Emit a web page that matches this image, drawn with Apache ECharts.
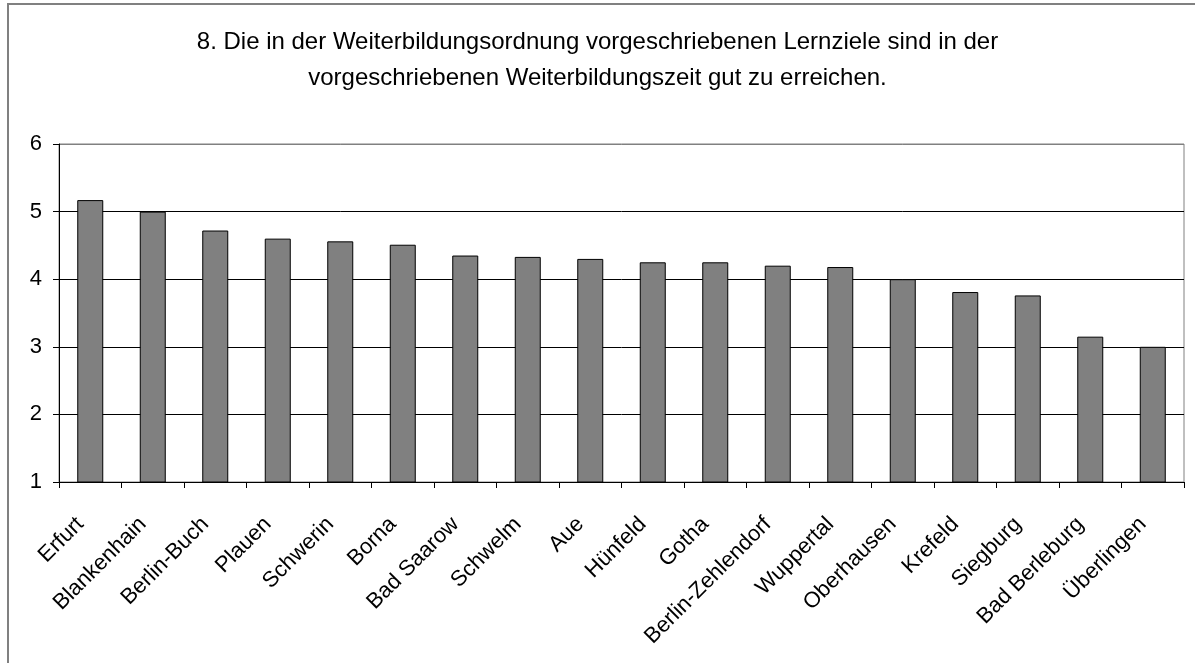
<!DOCTYPE html>
<html>
<head>
    <meta charset="utf-8">
    <title>Weiterbildung - Lernziele</title>
    <script src="https://cdn.jsdelivr.net/npm/echarts@6/dist/echarts.min.js"></script>
    <style type="text/css">
        html, body {
            margin: 0;
            padding: 0;
            background: #ffffff;
        }
        #chart {
            width: 1195px;
            height: 663px;
        }
    </style>
</head>
<body>
<div id="chart"></div>
<script>
    // Daten
    var kliniken = ['Erfurt', 'Blankenhain', 'Berlin-Buch', 'Plauen', 'Schwerin', 'Borna', 'Bad Saarow', 'Schwelm', 'Aue',
        'Hünfeld', 'Gotha', 'Berlin-Zehlendorf', 'Wuppertal', 'Oberhausen', 'Krefeld', 'Siegburg', 'Bad Berleburg', 'Überlingen'];
    var mittelwerte = [5.17, 5.0, 4.72, 4.6, 4.56, 4.51, 4.35, 4.33, 4.3, 4.25, 4.25, 4.2, 4.18, 4.0, 3.81, 3.76, 3.15, 3.0];
    var yMin = 1, yMax = 6, yStep = 1;
    var titel = '8. Die in der Weiterbildungsordnung vorgeschriebenen Lernziele sind in der\nvorgeschriebenen Weiterbildungszeit gut zu erreichen.';

    var schrift = "'Liberation Sans', Arial, sans-serif";
    var chart = echarts.init(document.getElementById('chart'), null, {renderer: 'canvas'});

    var option = {
        backgroundColor: '#ffffff',
        animation: false,
        title: {
            text: titel,
            left: 'center',
            top: 19,
            textStyle: {
                fontFamily: schrift,
                fontSize: 24,
                fontWeight: 'normal',
                color: '#000000',
                lineHeight: 36,
                align: 'center'
            }
        },
        // äußerer Rahmen
        graphic: [{
            type: 'rect',
            shape: {x: 8, y: 4, width: 1200, height: 680},
            style: {fill: 'none', stroke: '#808080', lineWidth: 2},
            silent: true
        }],
        grid: {
            left: 59,
            top: 144,
            right: 11,
            bottom: 181,
            show: true,
            borderColor: '#808080',
            borderWidth: 1
        },
        xAxis: {
            type: 'category',
            data: kliniken,
            boundaryGap: true,
            axisLine: {lineStyle: {color: '#000000', width: 1}},
            axisTick: {show: true, length: 6, inside: false, lineStyle: {color: '#000000'}},
            axisLabel: {
                interval: 0,
                rotate: 45,
                margin: 29,
                padding: [0, 14, 0, 0],
                fontFamily: schrift,
                fontSize: 22,
                color: '#000000'
            },
            splitLine: {show: false}
        },
        yAxis: {
            type: 'value',
            min: yMin,
            max: yMax,
            interval: yStep,
            axisLine: {show: true, lineStyle: {color: '#000000', width: 1}},
            axisTick: {show: true, length: 6, lineStyle: {color: '#000000'}},
            axisLabel: {
                margin: 17,
                fontFamily: schrift,
                fontSize: 22,
                color: '#000000'
            },
            splitLine: {
                show: true,
                lineStyle: {color: ['#000000', '#000000', '#000000', '#000000', '#000000', '#808080'], width: 1}
            }
        },
        series: [{
            type: 'bar',
            data: mittelwerte,
            barWidth: 26,
            itemStyle: {
                color: '#808080',
                borderColor: '#000000',
                borderWidth: 1
            }
        }]
    };
    chart.setOption(option);
</script>
</body>
</html>
